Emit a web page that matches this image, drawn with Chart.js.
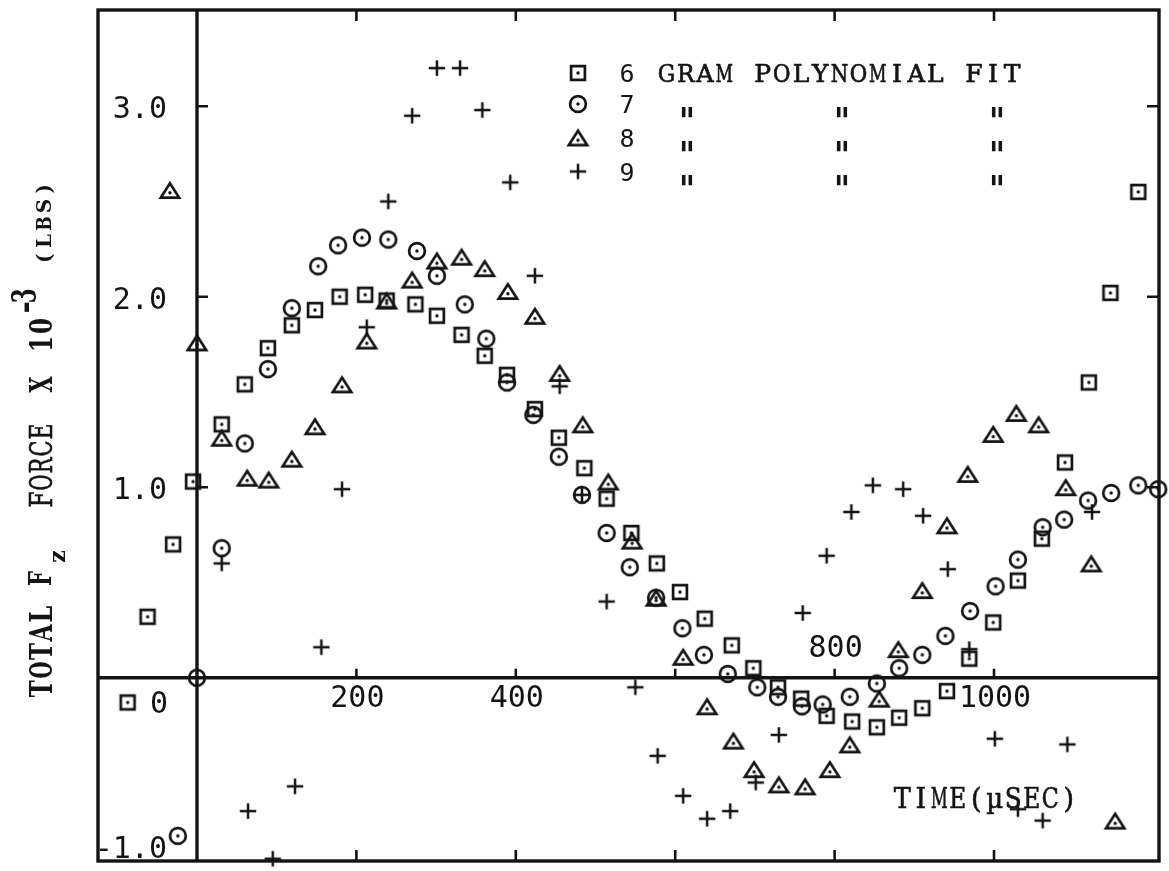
<!DOCTYPE html>
<html>
<head>
<meta charset="utf-8">
<title>Total Fz force vs time</title>
<script src="https://cdn.jsdelivr.net/npm/chart.js@4.4.1/dist/chart.umd.min.js"></script>
<style>
  html, body { margin: 0; padding: 0; background: #fff; overflow: hidden; }
  canvas { display: block; }
</style>
</head>
<body>
<canvas id="plot" width="1169" height="871"></canvas>
<script>
// ---- readings: time in microseconds, total Fz force in 10^3 lbs ----
const sixGramTime  = [-87, -62, -30, -5, 31, 60, 89, 119, 148, 179, 211, 238, 274, 301, 332, 361, 389, 424, 454, 486, 514, 545, 577, 606, 637, 671, 698, 729, 758, 790, 822, 853, 881, 910, 941, 969, 999, 1030, 1060, 1089, 1119, 1146, 1181];
const sixGramForce = [-0.13, 0.32, 0.70, 1.03, 1.33, 1.54, 1.73, 1.85, 1.93, 2.00, 2.01, 1.98, 1.96, 1.90, 1.80, 1.69, 1.59, 1.41, 1.26, 1.10, 0.94, 0.76, 0.60, 0.45, 0.31, 0.17, 0.05, -0.05, -0.11, -0.20, -0.23, -0.26, -0.21, -0.16, -0.07, 0.10, 0.29, 0.51, 0.73, 1.13, 1.55, 2.02, 2.55];

const sevenGramTime  = [-24, 0, 31, 60, 89, 119, 152, 177, 207, 240, 276, 301, 336, 363, 389, 422, 454, 483, 514, 543, 576, 609, 636, 666, 703, 729, 759, 785, 819, 853, 881, 910, 939, 970, 1002, 1030, 1061, 1088, 1118, 1147, 1181, 1206];
const sevenGramForce = [-0.83, 0, 0.68, 1.23, 1.62, 1.94, 2.16, 2.27, 2.31, 2.30, 2.24, 2.11, 1.96, 1.78, 1.55, 1.38, 1.16, 0.96, 0.76, 0.58, 0.42, 0.26, 0.12, 0.02, -0.05, -0.10, -0.15, -0.14, -0.10, -0.03, 0.05, 0.12, 0.22, 0.35, 0.48, 0.62, 0.79, 0.83, 0.93, 0.97, 1.01, 0.99];

const eightGramTime  = [-34, 0, 31, 63, 90, 119, 148, 182, 213, 238, 270, 301, 332, 361, 390, 424, 455, 484, 516, 546, 576, 610, 640, 673, 699, 730, 763, 794, 819, 856, 880, 910, 941, 967, 999, 1028, 1056, 1090, 1122, 1152];
const eightGramForce = [2.56, 1.76, 1.26, 1.05, 1.04, 1.15, 1.32, 1.54, 1.77, 1.98, 2.09, 2.19, 2.21, 2.15, 2.03, 1.90, 1.60, 1.33, 1.03, 0.72, 0.42, 0.11, -0.15, -0.33, -0.48, -0.56, -0.57, -0.48, -0.35, -0.11, 0.15, 0.46, 0.80, 1.07, 1.28, 1.39, 1.33, 1.00, 0.60, -0.75];

const nineGramTime  = [31, 64, 95, 123, 156, 182, 213, 240, 270, 301, 330, 358, 393, 424, 455, 483, 514, 550, 578, 610, 640, 669, 701, 730, 760, 790, 821, 848, 886, 911, 942, 969, 1001, 1030, 1061, 1092, 1123];
const nineGramForce = [0.60, -0.70, -0.95, -0.57, 0.16, 0.99, 1.84, 2.50, 2.95, 3.20, 3.20, 2.98, 2.60, 2.11, 1.53, 0.96, 0.40, -0.05, -0.41, -0.62, -0.74, -0.70, -0.55, -0.30, 0.34, 0.64, 0.87, 1.01, 0.99, 0.85, 0.57, 0.15, -0.32, -0.69, -0.75, -0.35, 0.87];

// ---- axis ticks ----
const timeTicks       = [0, 200, 400, 600, 800, 1000];
const timeTickLabels  = ['', '200', '400', '', '800', '1000'];
const forceTicks      = [-1, 0, 1, 2, 3];
const forceTickLabels = ['-1.0', '0', '1.0', '2.0', '3.0'];

// ---- legend and titles ----
const seriesNumbers = ['6', '7', '8', '9'];
const legendCaption = 'GRAM POLYNOMIAL FIT';
const dittoMark = '"';
const timeTitle = 'TIME(\u00B5SEC)';

const INK = '#141414';
const SERIF = '"DejaVu Serif", "Liberation Serif", serif';
const SANS_MONO = '"DejaVu Sans Mono", monospace';

// Typewriter-style point markers (outline with a centre dot)
function markerCanvas(kind) {
  const s = 34, c = 17;
  const cv = document.createElement('canvas');
  cv.width = s; cv.height = s;
  const g = cv.getContext('2d');
  g.strokeStyle = INK; g.fillStyle = INK; g.lineWidth = 2.7;
  const dot = (dx, dy) => { g.beginPath(); g.arc(dx, dy, 1.7, 0, Math.PI * 2); g.fill(); };
  g.beginPath();
  if (kind === 'square') {
    g.rect(c - 6.9, c - 6.9, 13.8, 13.8); g.stroke(); dot(c, c);
  } else if (kind === 'circle') {
    g.arc(c, c, 7.9, 0, Math.PI * 2); g.stroke(); dot(c, c);
  } else if (kind === 'triangle') {
    g.lineJoin = 'miter';
    g.moveTo(c, c - 6.8); g.lineTo(c + 9.2, c + 7.6); g.lineTo(c - 9.2, c + 7.6); g.closePath();
    g.stroke(); dot(c, c + 2.7);
  } else {
    g.lineWidth = 2.5;
    g.moveTo(c - 8.2, c); g.lineTo(c + 8.2, c);
    g.moveTo(c, c - 7.8); g.lineTo(c, c + 7.8);
    g.stroke();
  }
  return cv;
}
const markers = {
  square: markerCanvas('square'),
  circle: markerCanvas('circle'),
  triangle: markerCanvas('triangle'),
  plus: markerCanvas('plus')
};
const legendMarkers = [markers.square, markers.circle, markers.triangle, markers.plus];

function pairs(xs, ys) { return xs.map((t, i) => ({ x: t, y: ys[i] })); }

// place a string so that its inked glyphs are centred on cy
function textAt(ctx, str, x, cy, align) {
  ctx.textAlign = align;
  ctx.textBaseline = 'alphabetic';
  const m = ctx.measureText(str);
  ctx.fillText(str, x, cy + (m.actualBoundingBoxAscent - m.actualBoundingBoxDescent) / 2);
}

// typewriter line: one glyph per fixed-pitch cell, centred on (cx, cy)
function typeLine(ctx, str, cx, cy, o) {
  ctx.save();
  ctx.translate(cx, cy);
  if (o.rotate) ctx.rotate(-Math.PI / 2);
  ctx.font = o.font;
  ctx.textAlign = 'center';
  ctx.textBaseline = 'alphabetic';
  const sy = o.sy || 1;
  let by;
  if (o.ownCentre) {
    const m = ctx.measureText(str);
    by = (m.actualBoundingBoxAscent - m.actualBoundingBoxDescent) / 2;
  } else {
    by = ctx.measureText('H').actualBoundingBoxAscent / 2;
  }
  const n = str.length;
  for (let i = 0; i < n; i++) {
    const ch = str[i];
    if (ch === ' ') continue;
    const w = ctx.measureText(ch).width;
    const sx = Math.min(1, (o.maxW || o.pitch) / w);
    ctx.save();
    ctx.translate((i - (n - 1) / 2) * o.pitch, 0);
    ctx.scale(sx, sy);
    ctx.fillText(ch, 0, by);
    if (o.stroke) { ctx.lineWidth = o.stroke; ctx.strokeStyle = INK; ctx.strokeText(ch, 0, by); }
    ctx.restore();
  }
  ctx.restore();
}

const paperPlot = {
  id: 'paperPlot',
  beforeDatasetsDraw(chart) {
    const { ctx, chartArea: a, scales: { x, y } } = chart;
    const x0 = x.getPixelForValue(0), y0 = y.getPixelForValue(0);
    ctx.save();
    ctx.strokeStyle = INK; ctx.fillStyle = INK;

    // border and the two zero axes
    ctx.lineWidth = 3.4;
    ctx.strokeRect(a.left, a.top, a.right - a.left, a.bottom - a.top);
    ctx.beginPath();
    ctx.moveTo(x0, a.top); ctx.lineTo(x0, a.bottom);
    ctx.moveTo(a.left, y0); ctx.lineTo(a.right, y0);
    ctx.stroke();

    // inward tick marks
    ctx.lineWidth = 2.6;
    ctx.beginPath();
    timeTicks.forEach(t => {
      if (t === 0) return;
      const px = x.getPixelForValue(t);
      ctx.moveTo(px, y0); ctx.lineTo(px, y0 - 9);
      ctx.moveTo(px, a.top); ctx.lineTo(px, a.top + 11);
      ctx.moveTo(px, a.bottom); ctx.lineTo(px, a.bottom - 11);
    });
    forceTicks.forEach(v => {
      if (v <= 0) return;
      const py = y.getPixelForValue(v);
      ctx.moveTo(x0, py); ctx.lineTo(x0 + 11, py);
      ctx.moveTo(a.right, py); ctx.lineTo(a.right - 12, py);
    });
    ctx.stroke();

    // tick labels
    ctx.font = '30px ' + SANS_MONO;
    forceTicks.forEach((v, i) => {
      const label = forceTickLabels[i];
      if (!label) return;
      if (v === 0) { textAt(ctx, label, x0 - 29, y0 + 24, 'right'); return; }
      const py = Math.min(y.getPixelForValue(v) + 1, a.bottom - 14);
      textAt(ctx, label, x0 - 30, py, 'right');
    });
    const labelsAboveAxis = [800];
    timeTicks.forEach((t, i) => {
      const label = timeTickLabels[i];
      if (!label) return;
      const px = x.getPixelForValue(t) + 1;
      const cy = labelsAboveAxis.includes(t) ? y0 - 32 : y0 + 18;
      textAt(ctx, label, px, cy, 'center');
    });

    // vertical axis title, typed sideways
    const bold = s => 'bold ' + s + 'px ' + SERIF;
    const reg = s => s + 'px ' + SERIF;
    typeLine(ctx, 'TOTAL', 40, 651.5, { font: bold(30), pitch: 18.6, maxW: 17, sy: 1.05, rotate: true });
    typeLine(ctx, 'F', 39, 578.5, { font: bold(30), pitch: 18.6, maxW: 15, sy: 1.05, rotate: true });
    typeLine(ctx, 'z', 59, 556.5, { font: bold(22), pitch: 14, maxW: 13, sy: 1.0, rotate: true, ownCentre: true });
    typeLine(ctx, 'FORCE', 40, 465.5, { font: reg(30), pitch: 17, maxW: 16, sy: 1.05, rotate: true, stroke: 0.6 });
    typeLine(ctx, 'X', 40, 384.5, { font: bold(30), pitch: 18.6, maxW: 16, sy: 1.05, rotate: true });
    typeLine(ctx, '10', 40, 335, { font: bold(30), pitch: 18, maxW: 16, sy: 1.05, rotate: true });
    typeLine(ctx, '-3', 23.5, 301.5, { font: bold(30), pitch: 11.5, maxW: 15, sy: 1.1, rotate: true, ownCentre: true });
    typeLine(ctx, '(LBS)', 45, 223.5, { font: bold(20), pitch: 17.4, maxW: 14.5, sy: 1.0, rotate: true, ownCentre: true });

    // horizontal axis title
    typeLine(ctx, timeTitle, 985.5, 797, { font: reg(27), pitch: 18.5, maxW: 17, sy: 1.0, stroke: 0.6 });

    // legend block
    const rows = [73, 104, 137.5, 171.5];
    rows.forEach((ry, i) => {
      const m = legendMarkers[i];
      ctx.drawImage(m, 578 - m.width / 2, ry - m.height / 2);
      ctx.font = '25px ' + SANS_MONO;
      textAt(ctx, seriesNumbers[i], 627, ry, 'center');
      if (i === 0) {
        const pitch = 19.2;
        typeLine(ctx, legendCaption, 657 + legendCaption.length * pitch / 2, ry,
          { font: reg(25), pitch, maxW: 17.5, sy: 1.0, stroke: 0.7 });
      } else {
        [687, 842, 997].forEach(dx =>
          typeLine(ctx, dittoMark, dx, ry + 7.5, { font: bold(44), pitch: 16, maxW: 16, sy: 0.85, ownCentre: true }));
      }
    });

    ctx.restore();
  }
};

function series(label, xs, ys, style) {
  return {
    label,
    data: pairs(xs, ys),
    pointStyle: style,
    pointRadius: 9,
    pointHoverRadius: 9,
    showLine: false,
    clip: false
  };
}

const chart = new Chart(document.getElementById('plot'), {
  type: 'scatter',
  data: {
    datasets: [
      series('6 GRAM', sixGramTime, sixGramForce, markers.square),
      series('7 GRAM', sevenGramTime, sevenGramForce, markers.circle),
      series('8 GRAM', eightGramTime, eightGramForce, markers.triangle),
      series('9 GRAM', nineGramTime, nineGramForce, markers.plus)
    ]
  },
  options: {
    responsive: false,
    animation: false,
    devicePixelRatio: 1,
    events: [],
    layout: { padding: { left: 98, right: 10, top: 9, bottom: 3 } },
    scales: {
      x: { type: 'linear', min: -124.2, max: 1207, bounds: 'data', display: false },
      y: { type: 'linear', min: -0.962, max: 3.505, bounds: 'data', display: false }
    },
    plugins: { legend: { display: false }, tooltip: { enabled: false } }
  },
  plugins: [paperPlot]
});

Promise.all([
  '30px "DejaVu Sans Mono"',
  'bold 30px "DejaVu Serif"',
  '30px "DejaVu Serif"'
].map(f => document.fonts.load(f))).then(() => chart.draw()).catch(() => chart.draw());
</script>
</body>
</html>
